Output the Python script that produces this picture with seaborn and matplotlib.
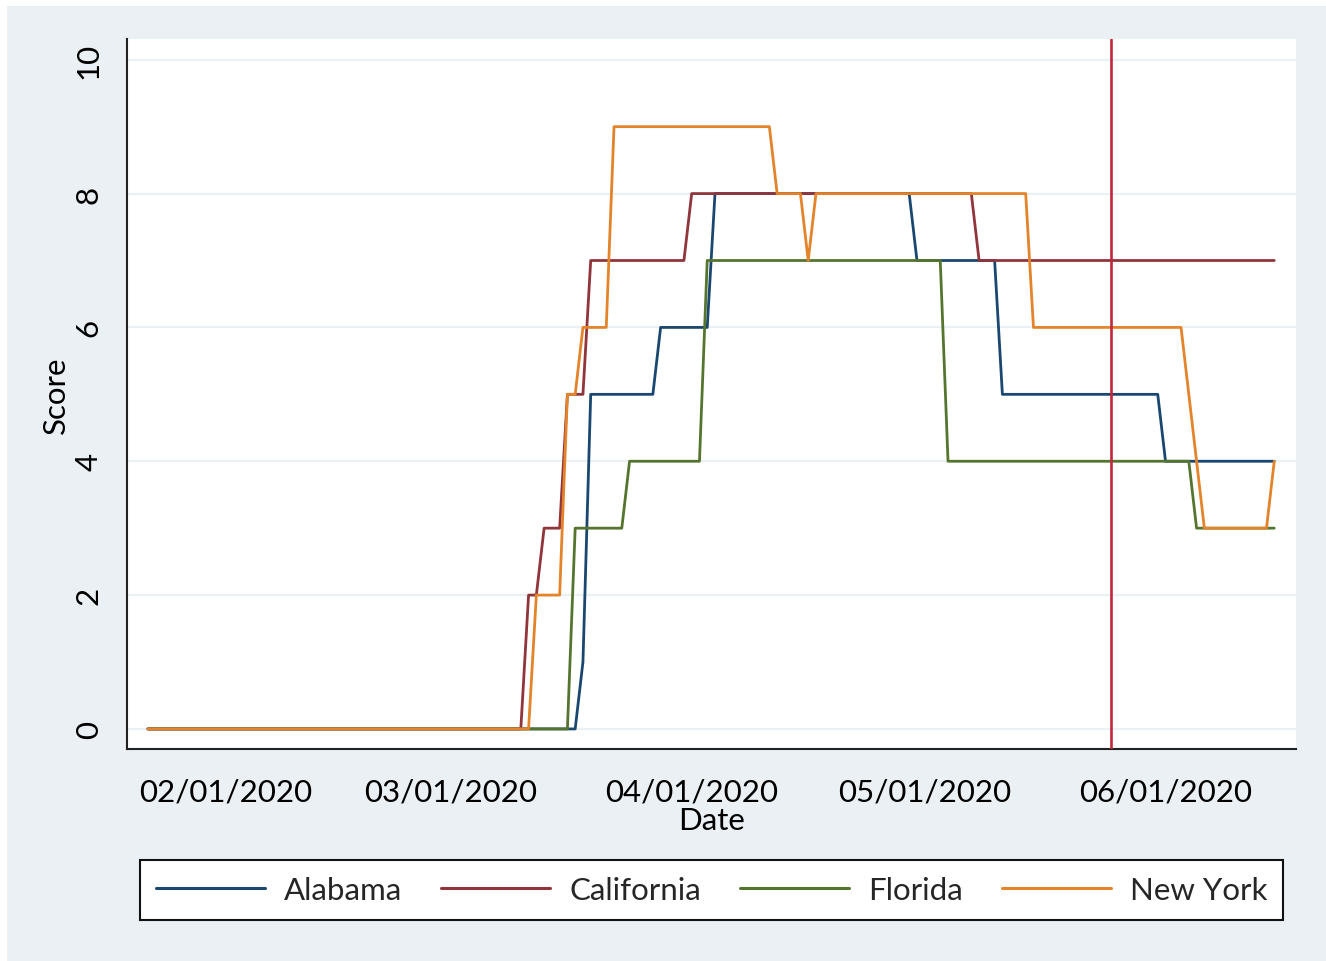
import matplotlib
matplotlib.use("Agg")
import matplotlib.pyplot as plt
import matplotlib.dates as mdates
from matplotlib.patches import Rectangle
from matplotlib.lines import Line2D
import numpy as np
import pandas as pd
import seaborn as sns

# ---------------- data (daily scores, 2020-01-22 .. 2020-06-15) ----------------
start_date = "2020-01-22"
n_days = 146
states = ["Alabama", "California", "Florida", "New York"]

alabama = [0]*56 + [1] + [5]*9 + [6]*7 + [8]*26 + [7]*11 + [5]*21 + [4]*15
california = [0]*49 + [2]*2 + [3]*3 + [5]*3 + [7]*13 + [8]*37 + [7]*39
florida = [0]*55 + [3]*7 + [4]*10 + [7]*31 + [4]*32 + [3]*11
new_york = ([0]*50 + [2]*4 + [5]*2 + [6]*4 + [9]*21 + [8]*4 + [7] + [8]*28
            + [6]*20 + [5] + [4] + [3]*9 + [4])

event_date = "2020-05-25"
x_ticks = ["2020-02-01", "2020-03-01", "2020-04-01", "2020-05-01", "2020-06-01"]
y_ticks = [0, 2, 4, 6, 8, 10]

colors = ["#1A476F", "#90353B", "#55752F", "#E3842A"]

dates = pd.date_range(start_date, periods=n_days, freq="D")
df = pd.concat([
    pd.DataFrame({"Date": dates, "Score": vals, "State": st})
    for st, vals in zip(states, [alabama, california, florida, new_york])
])

# ---------------- figure ----------------
sns.set_theme(style="white")
plt.rcParams["font.family"] = ["Lato", "DejaVu Sans"]
FS = 22.5

W, H = 1326, 962
fig = plt.figure(figsize=(W / 100, H / 100), dpi=100, facecolor="white")
bg = "#EAF0F3"
fig.patches.append(Rectangle((7 / W, 0), 1 - 7 / W, 1 - 7 / H,
                             transform=fig.transFigure, facecolor=bg,
                             edgecolor="none", zorder=-10))

ax = fig.add_axes([127 / W, 1 - 750 / H, (1296 - 127) / W, (750 - 40) / H])
ax.set_facecolor("white")

sns.lineplot(data=df, x="Date", y="Score", hue="State", hue_order=states,
             palette=colors, linewidth=2.0, ax=ax, legend=False, zorder=3)

ax.axvline(pd.Timestamp(event_date), color="#C0283C", linewidth=1.9, zorder=4)

# axes limits
d0 = pd.Timestamp(start_date)
ax.set_xlim(d0 - pd.Timedelta(days=2.7), d0 + pd.Timedelta(days=147.8))
ax.set_ylim(-0.3, 10.31)

# grid
for yv in y_ticks:
    ax.axhline(yv, color="#EAF0F3", linewidth=1.6, zorder=1)

ax.set_xticks(pd.to_datetime(x_ticks))
ax.xaxis.set_major_formatter(mdates.DateFormatter("%m/%d/%Y"))
ax.set_yticks(y_ticks)
ax.set_yticklabels([str(v) for v in y_ticks], rotation=90, va="center")

for s in ["top", "right"]:
    ax.spines[s].set_visible(False)
for s in ["left", "bottom"]:
    ax.spines[s].set_color("#222222")
    ax.spines[s].set_linewidth(1.5)

ax.tick_params(axis="both", which="major", direction="out", length=9.5,
               width=1.3, color="#222222", labelsize=FS, labelcolor="black")
ax.tick_params(axis="x", pad=11)
ax.tick_params(axis="y", pad=8)

ax.set_xlabel("Date", fontsize=FS, color="black")
ax.xaxis.set_label_coords(0.5, -0.080)
ax.set_ylabel("Score", fontsize=FS, color="black")
ax.yaxis.set_label_coords(-0.049, 0.5)

# legend
handles = [Line2D([0], [0], color=c, linewidth=2.2) for c in colors]
leg = fig.legend(handles, states, loc="center", ncol=4, mode="expand",
                 bbox_to_anchor=(140 / W, 1 - 921 / H, (1283 - 140) / W, 60 / H),
                 fontsize=FS, frameon=True, fancybox=False, handlelength=3.5,
                 handletextpad=0.6, borderpad=0.5, borderaxespad=0)
leg.get_frame().set_edgecolor("#111111")
leg.get_frame().set_linewidth(1.5)
leg.get_frame().set_facecolor("white")
leg.get_frame().set_alpha(1)

fig.savefig("out.png", dpi=100, facecolor=fig.get_facecolor())
